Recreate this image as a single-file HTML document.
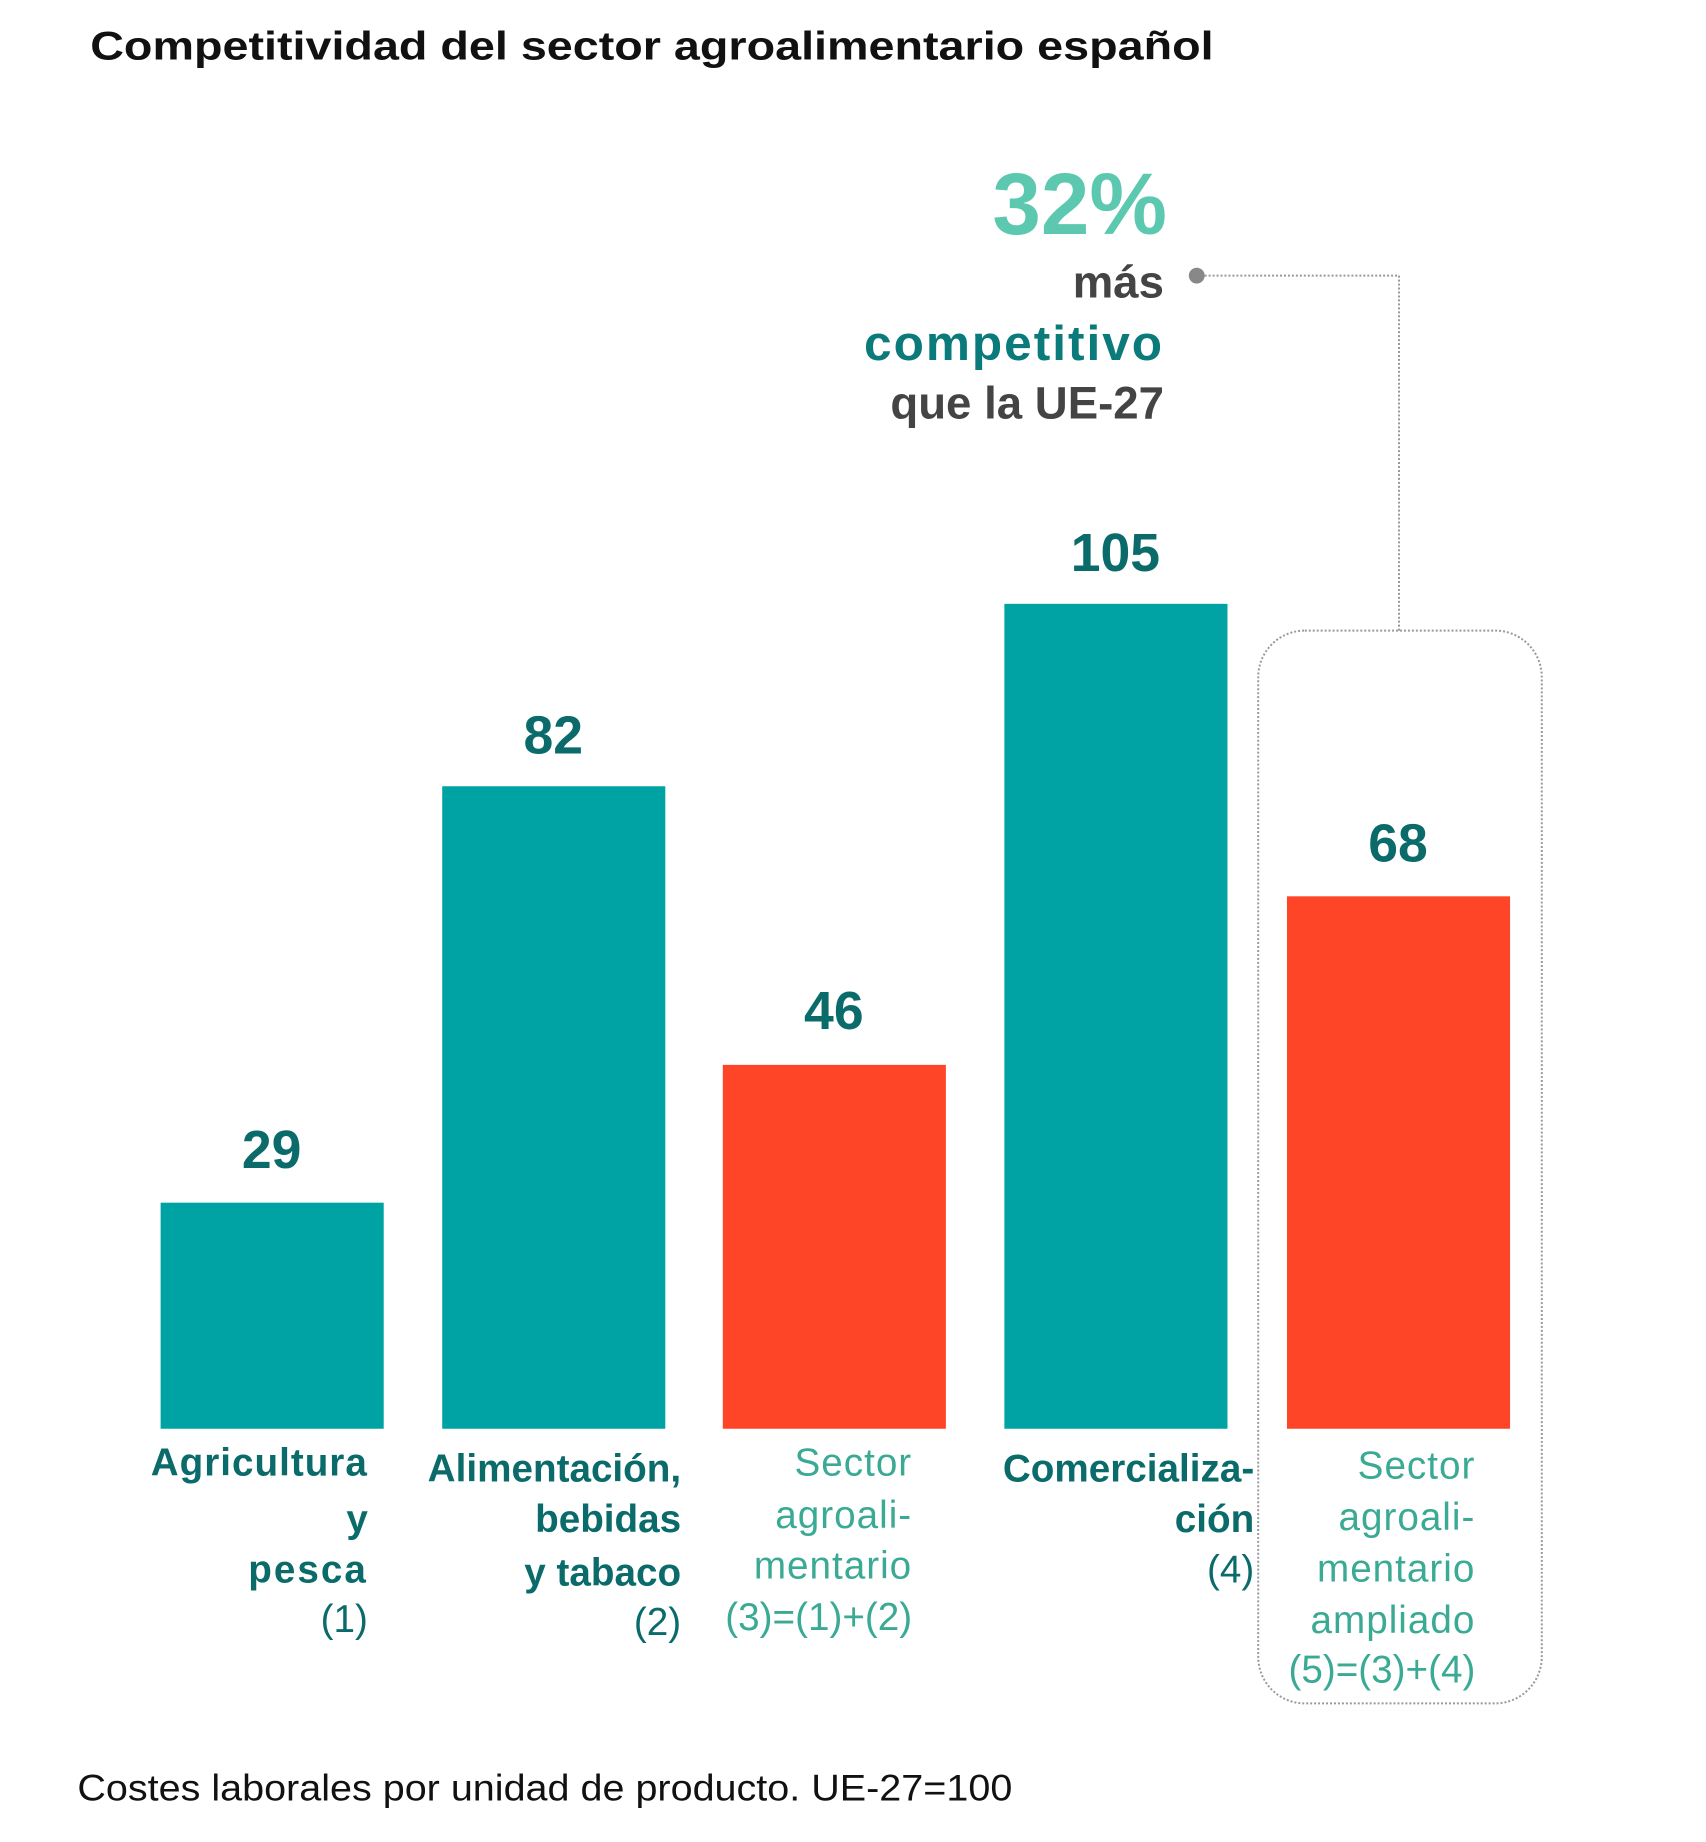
<!DOCTYPE html>
<html><head><meta charset="utf-8"><style>html,body{margin:0;padding:0;background:#fff}svg{display:block}</style></head>
<body>
<svg width="1706" height="1842" viewBox="0 0 1706 1842" xmlns="http://www.w3.org/2000/svg" font-family="Liberation Sans, sans-serif">
<g transform="scale(0.9915)">
<text x="91" y="60" font-size="40" font-weight="bold" fill="#111" textLength="1133" lengthAdjust="spacingAndGlyphs">Competitividad del sector agroalimentario español</text>
<g fill="#00a3a3">
<rect x="162" y="1213" width="225" height="228"/>
<rect x="446" y="793" width="225" height="648"/>
<rect x="1013" y="609" width="225" height="832"/>
</g>
<g fill="#ff4528">
<rect x="729" y="1074" width="225" height="367"/>
<rect x="1298" y="904" width="225" height="537"/>
</g>
<g font-size="54" font-weight="bold" fill="#0b6b6b" text-anchor="middle">
<text x="274" y="1178">29</text>
<text x="558" y="760">82</text>
<text x="841" y="1038">46</text>
<text x="1125" y="576">105</text>
<text x="1410" y="869">68</text>
</g>
<rect x="1269" y="636" width="286" height="1082" rx="47" fill="none" stroke="#999" stroke-width="2" stroke-dasharray="2 2"/>
<polyline points="1207,278 1411,278 1411,636" fill="none" stroke="#999" stroke-width="2" stroke-dasharray="2 2"/>
<circle cx="1207" cy="278" r="8" fill="#888"/>
<g text-anchor="end" font-weight="bold">
<text x="1177" y="236" font-size="88" fill="#5cc8b0">32%</text>
<text x="1174" y="300" font-size="46" fill="#444">más</text>
<text x="1174" y="363" font-size="50" fill="#0a7a7a" letter-spacing="2">competitivo</text>
<text x="1174" y="422" font-size="46" fill="#444">que la UE-27</text>
</g>
<g font-size="39" font-weight="bold" text-anchor="end" fill="#0b6b6b">
<text x="371" y="1488" letter-spacing="1">Agricultura</text>
<text x="371" y="1545">y</text>
<text x="371" y="1596" letter-spacing="2">pesca</text>
<text x="371" y="1646" font-weight="normal">(1)</text>
<text x="687" y="1494">Alimentación,</text>
<text x="687" y="1545">bebidas</text>
<text x="687" y="1599">y tabaco</text>
<text x="687" y="1649" font-weight="normal">(2)</text>
<text x="1265" y="1494">Comercializa-</text>
<text x="1265" y="1545">ción</text>
<text x="1265" y="1596" font-weight="normal">(4)</text>
</g>
<g font-size="39" text-anchor="end" fill="#3aaa94" letter-spacing="1">
<text x="920" y="1488">Sector</text>
<text x="920" y="1541">agroali-</text>
<text x="920" y="1592">mentario</text>
<text x="920" y="1644" letter-spacing="0">(3)=(1)+(2)</text>
<text x="1488" y="1491">Sector</text>
<text x="1488" y="1543">agroali-</text>
<text x="1488" y="1595">mentario</text>
<text x="1488" y="1647">ampliado</text>
<text x="1488" y="1697" letter-spacing="0">(5)=(3)+(4)</text>
</g>
<text x="78" y="1816" font-size="37" fill="#111" textLength="943" lengthAdjust="spacingAndGlyphs">Costes laborales por unidad de producto. UE-27=100</text>
</g>
</svg>
</body></html>
